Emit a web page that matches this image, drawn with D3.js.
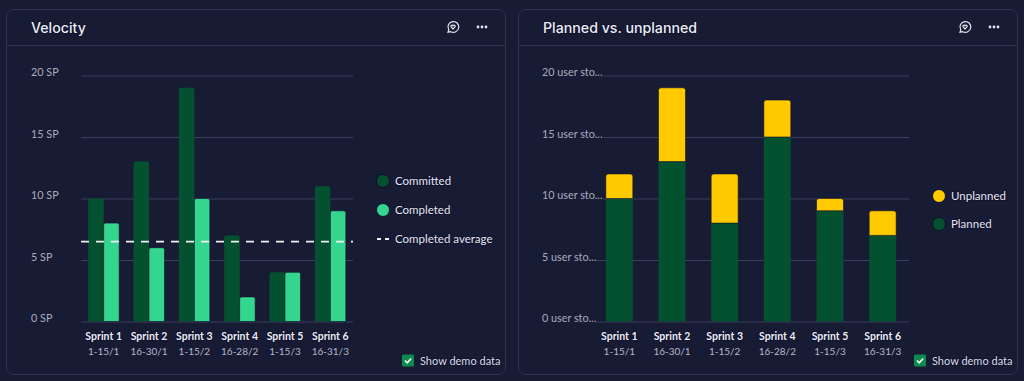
<!DOCTYPE html>
<html>
<head>
<meta charset="utf-8">
<script src="https://cdn.jsdelivr.net/npm/d3@7"></script>
<style>
    html, body { margin: 0; padding: 0; background: #181b34; }
    svg { display: block; }
    text { font-family: Lato, "Noto Sans", sans-serif; }
    .title { font-family: Inter, "Noto Sans", sans-serif; }
    .halo { paint-order: stroke; stroke: #0d0f2c; stroke-width: 1.5px; stroke-linejoin: round; }
</style>
</head>
<body>
<div id="chart"></div>
<script>
// data
const sprints = ["Sprint 1", "Sprint 2", "Sprint 3", "Sprint 4", "Sprint 5", "Sprint 6"];
const dates = ["1-15/1", "16-30/1", "1-15/2", "16-28/2", "1-15/3", "16-31/3"];

const committed = [10, 13, 19, 7, 4, 11];
const completed = [8, 6, 10, 2, 4, 9];
const completedAverage = 6.5;

const planned = [10, 13, 8, 15, 9, 7];
const unplanned = [2, 6, 4, 3, 1, 2];

const tickValues = [0, 5, 10, 15, 20];
const spLabels = ["0 SP", "5 SP", "10 SP", "15 SP", "20 SP"];
const storyLabels = ["0 user sto...", "5 user sto...", "10 user sto...", "15 user sto...", "20 user sto..."];

const colors = {committed: "#03512f", completed: "#34d68f", unplanned: "#ffcb00", planned: "#03512f"};

const svg = d3.select("#chart").append("svg")
    .attr("width", 1024)
    .attr("height", 381);

// bar with rounded top corners only
function topRounded(x, y, w, h, r) {
    r = Math.min(r, h);
    return `M${x},${y + h}V${y + r}Q${x},${y} ${x + r},${y}H${x + w - r}Q${x + w},${y} ${x + w},${y + r}V${y + h}Z`;
}

function drawPanel(px, title) {
    let g = svg.append("g").attr("transform", `translate(${px}, 0)`);

    g.append("rect")
        .attr("x", 0.5).attr("y", 9.5)
        .attr("width", 499).attr("height", 365)
        .attr("rx", 7)
        .attr("fill", "#181b34")
        .attr("stroke", "#30344f");

    g.append("line")
        .attr("x1", 1).attr("x2", 499)
        .attr("y1", 45.5).attr("y2", 45.5)
        .attr("stroke", "#30344f");

    g.append("text")
        .attr("class", "title halo")
        .attr("x", 25).attr("y", 33)
        .attr("font-size", 14.2)
        .attr("font-weight", 500)
        .attr("fill", "#eceef5")
        .text(title);

    // chat icon
    let icon = g.append("g").attr("transform", "translate(447, 27)")
        .attr("fill", "none").attr("stroke", "#e4e5ee").attr("stroke-width", 1.2);
    icon.append("path").attr("d", "M-5,5.2 L-4.2,2.8 A5.4,5.4 0 1 1 -2.2,4.7 Z");
    icon.append("path").attr("d", "M0,2 L-2.2,-0.4 A1.2,1.2 0 0 1 0,-1.2 A1.2,1.2 0 0 1 2.2,-0.4 Z");

    // dots menu
    g.selectAll(".dot")
        .data([-4, 0, 4])
        .join("circle")
        .attr("cx", d => 476 + d)
        .attr("cy", 27)
        .attr("r", 1.4)
        .attr("fill", "#e4e5ee");

    // demo checkbox
    let cx = 396;
    g.append("rect")
        .attr("x", cx).attr("y", 354.5)
        .attr("width", 12).attr("height", 12)
        .attr("rx", 1.5)
        .attr("fill", "#0f8a4f");
    g.append("path")
        .attr("d", `M${cx + 3},360.5 l2.2,2.3 l4,-4.4`)
        .attr("fill", "none").attr("stroke", "#fff").attr("stroke-width", 1.5);
    g.append("text")
        .attr("class", "halo")
        .attr("x", cx + 18).attr("y", 365)
        .attr("font-size", 11)
        .attr("fill", "#dcdde8")
        .text("Show demo data");

    return g;
}

function drawAxes(g, x, y, labels, labelX) {
    // horizontal grid + tick labels
    let yAxis = d3.axisLeft(y)
        .tickValues(tickValues)
        .tickFormat((d, i) => labels[i])
        .tickSize(x.range()[0] - x.range()[1])
        .tickPadding(0);

    let yGroup = g.append("g")
        .attr("transform", `translate(${x.range()[0]}, 0)`)
        .call(yAxis);
    yGroup.select(".domain").remove();
    yGroup.selectAll(".tick line").attr("stroke", "#3b3f5e");
    yGroup.selectAll(".tick text")
        .attr("transform", d => `translate(${labelX - x.range()[0]}, -3)`)
        .attr("x", 0)
        .attr("text-anchor", "start")
        .attr("font-size", 10.8)
        .attr("fill", "#a9abbd")
        .attr("stroke", "#181b34")
        .attr("stroke-width", 2)
        .attr("paint-order", "stroke");

    // sprint names and dates under the bars
    let xAxis = d3.axisBottom(x).tickSize(0).tickPadding(0).tickFormat(d => d);
    let xGroup = g.append("g")
        .attr("transform", `translate(0, ${y(0)})`)
        .call(xAxis);
    xGroup.select(".domain").remove();
    xGroup.selectAll(".tick text")
        .attr("class", "halo")
        .attr("y", 18)
        .attr("dy", 0)
        .attr("font-size", 10.5)
        .attr("font-weight", 700)
        .attr("fill", "#eceef5");
    xGroup.selectAll(".tick").append("text")
        .attr("y", 33)
        .attr("text-anchor", "middle")
        .attr("font-size", 10)
        .attr("fill", "#b5b7c8")
        .text((d, i) => dates[i]);
}

function drawLegend(g, items) {
    items.forEach(item => {
        if (item.dash) {
            g.append("line")
                .attr("x1", item.x - 6).attr("x2", item.x + 6)
                .attr("y1", item.y).attr("y2", item.y)
                .attr("stroke", "#f0f0f0")
                .attr("stroke-width", 1.8)
                .attr("stroke-dasharray", "4,4");
        } else {
            g.append("circle")
                .attr("cx", item.x).attr("cy", item.y)
                .attr("r", 6.5)
                .attr("fill", item.color)
                .attr("stroke", "#0d0f2c")
                .attr("stroke-width", 1);
        }
        g.append("text")
            .attr("class", "halo")
            .attr("x", item.x + 12).attr("y", item.y + 4)
            .attr("font-size", 11.5)
            .attr("fill", "#e8e9f1")
            .text(item.label);
    });
}

/* velocity panel */
let left = panelVelocity();
function panelVelocity() {
    let g = drawPanel(6, "Velocity");

    let x = d3.scaleBand().domain(sprints).range([75, 347]);
    let y = d3.scaleLinear().domain([0, 20]).range([312.5, 66.5]);
    g = g.append("g").attr("transform", "translate(0, 9)");

    drawAxes(g, x, y, spLabels, 25);

    let barW = 15.5;

    g.selectAll(".committed")
        .data(committed)
        .join("path")
        .attr("class", "committed")
        .attr("fill", colors.committed)
        .attr("d", (d, i) => topRounded(x(sprints[i]) + x.bandwidth() / 2 - barW, y(d), barW, y(0) - y(d), 2));

    g.selectAll(".completed")
        .data(completed)
        .join("path")
        .attr("class", "completed")
        .attr("fill", colors.completed)
        .attr("stroke", "#0d0f2c")
        .attr("stroke-width", 0.6)
        .attr("d", (d, i) => topRounded(x(sprints[i]) + x.bandwidth() / 2, y(d), barW, y(0) - y(d), 2));

    g.append("line")
        .attr("x1", x.range()[0]).attr("x2", x.range()[1])
        .attr("y1", y(completedAverage)).attr("y2", y(completedAverage))
        .attr("stroke", "#f0f0f0")
        .attr("stroke-width", 1.8)
        .attr("stroke-dasharray", "8,7");

    drawLegend(g, [
        {x: 377, y: 172, color: colors.committed, label: "Committed"},
        {x: 377, y: 201, color: colors.completed, label: "Completed"},
        {x: 377, y: 230, dash: true, label: "Completed average"}
    ]);
    return g;
}

/* planned vs unplanned panel */
let right = panelPlanned();
function panelPlanned() {
    let g = drawPanel(518, "Planned vs. unplanned");

    let x = d3.scaleBand().domain(sprints).range([75, 391]);
    let y = d3.scaleLinear().domain([0, 20]).range([312.5, 66.5]);
    g = g.append("g").attr("transform", "translate(0, 9)");

    drawAxes(g, x, y, storyLabels, 24);

    let barW = 27;

    g.selectAll(".planned")
        .data(planned)
        .join("rect")
        .attr("class", "planned")
        .attr("fill", colors.planned)
        .attr("x", (d, i) => x(sprints[i]) + (x.bandwidth() - barW) / 2)
        .attr("y", d => y(d))
        .attr("width", barW)
        .attr("height", d => y(0) - y(d));

    g.selectAll(".unplanned")
        .data(unplanned)
        .join("path")
        .attr("class", "unplanned")
        .attr("fill", colors.unplanned)
        .attr("stroke", "#0d0f2c")
        .attr("stroke-width", 0.6)
        .attr("d", (d, i) => topRounded(x(sprints[i]) + (x.bandwidth() - barW) / 2, y(planned[i] + d), barW, y(planned[i]) - y(planned[i] + d), 2.5));

    drawLegend(g, [
        {x: 421, y: 187, color: colors.unplanned, label: "Unplanned"},
        {x: 421, y: 215, color: colors.planned, label: "Planned"}
    ]);
    return g;
}
</script>
</body>
</html>
